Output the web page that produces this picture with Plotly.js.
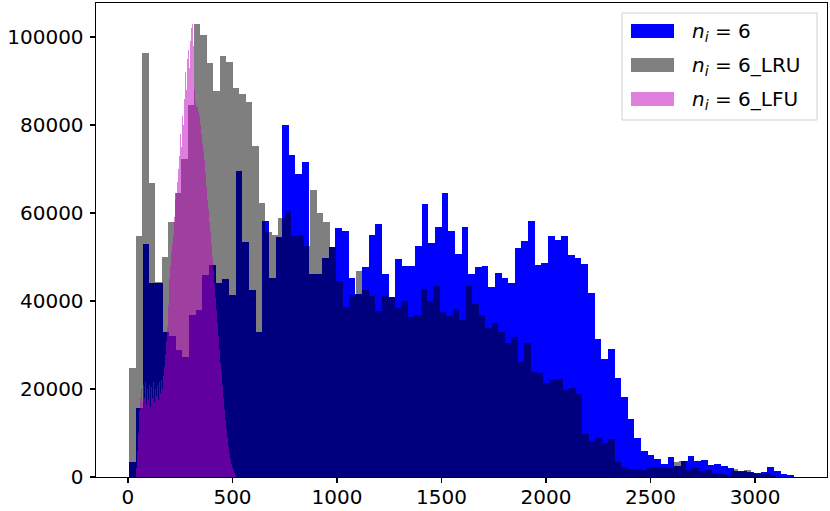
<!DOCTYPE html>
<html>
<head>
<meta charset="utf-8">
<script src="https://cdn.plot.ly/plotly-3.0.1.min.js"></script>
<style>
  html, body { margin: 0; padding: 0; background: #fff; }
  #myDiv { width: 830px; height: 511px; }
</style>
</head>
<body>
<div id="myDiv"></div>
<script>
// bin heights (counts)
var countsBase = [
    3400, 15700, 52900, 44000, 44000, 32900, 32000, 28900, 27300, 36900,
    38000, 45900, 48200, 44000, 45000, 41400, 69500, 53500, 42500, 33000,
    58200, 45300, 54600, 80000, 73200, 68900, 71500, 46100, 46200, 49700,
    52200, 56500, 55900, 45200, 41600, 47800, 54900, 57500, 46100, 41000,
    49500, 48000, 48000, 52600, 62000, 53100, 56900, 64600, 55900, 50600,
    56700, 46100, 47700, 48000, 43100, 46400, 45300, 44000, 52000, 53700,
    58200, 48200, 48600, 54700, 53900, 54800, 50500, 49700, 48300, 41700,
    31400, 26700, 29000, 22400, 18100, 13100, 8800, 5900, 5000, 4100,
    2900, 4500, 2600, 3700, 4800, 3600, 3900, 2700, 2900, 2500,
    2000, 1400, 1400, 1200, 1000, 1200, 2200, 1400, 700, 500
];

var countsLRU = [
    24800, 54800, 96300, 66700, 44300, 49900, 57900, 64500, 72200, 84500,
    102900, 100500, 94000, 87600, 95700, 94200, 88300, 87000, 85200, 75100,
    62300, 55700, 55000, 58800, 60500, 54800, 54900, 52600, 65200, 59900,
    58000, 52300, 44600, 38600, 41300, 46700, 42500, 41100, 37800, 41100,
    40800, 38500, 40000, 36400, 36800, 42700, 40000, 43400, 37600, 36600,
    38100, 35700, 43400, 39300, 36800, 33900, 34900, 32900, 30500, 31700,
    26200, 30400, 23900, 23600, 21300, 22000, 22300, 19800, 20300, 18900,
    9800, 8100, 8800, 7700, 8600, 3500, 2300, 1900, 1900, 1700,
    2100, 2300, 2300, 2000, 3500, 3700, 1600, 2100, 1400, 1600,
    1000, 700, 500, 1800, 1100, 1700, 800, 600, 1000, 500
];

var countsLFU = [
    2000, 6000, 10000, 15000, 18000, 20000, 17000, 21000, 18000, 21500,
    16500, 20000, 17500, 21000, 16000, 20500, 18000, 21500, 17000, 20000,
    18500, 21000, 17500, 21500, 19000, 22000, 20000, 23000, 25000, 28000,
    31000, 34000, 39000, 45000, 48000, 51000, 53000, 55000, 59000, 63000,
    64500, 67000, 70000, 73000, 78000, 75000, 82000, 80000, 86000, 92000,
    88000, 95000, 97000, 93000, 99000, 102000, 103000, 98000, 88000, 85000,
    84000, 84000, 83000, 82000, 80000, 78000, 76000, 74000, 72000, 69000,
    66000, 63000, 61000, 58000, 56000, 53000, 50000, 47000, 44000, 41000,
    38000, 35000, 32000, 29000, 26000, 24000, 21000, 18000, 15500, 13000,
    11000, 9000, 7000, 5500, 4000, 3000, 2300, 1600, 1000, 500
];

var seriesNames = [
    '<i>n</i><sub><i>i</i></sub> = 6',
    '<i>n</i><sub><i>i</i></sub> = 6_LRU',
    '<i>n</i><sub><i>i</i></sub> = 6_LFU'
];

// bin layout of each histogram (left edge of first bin, bin width)
var bins = [
    {start: 6.2, width: 31.8},
    {start: 6.2, width: 30.96},
    {start: 40, width: 4.75}
];
var colors = ['rgb(0,0,255)', 'rgba(0,0,0,0.5)', 'rgba(191,0,191,0.5)'];
var allCounts = [countsBase, countsLRU, countsLFU];

var data = allCounts.map(function (counts, s) {
    var edges = counts.map(function (c, i) { return bins[s].start + i * bins[s].width; });
    return {
        type: 'bar',
        x: edges,
        y: counts,
        width: bins[s].width,
        offset: 0,
        name: seriesNames[s],
        marker: {color: colors[s], line: {width: 0}},
        showlegend: false,
        hoverinfo: 'x+y'
    };
});

// hand-drawn legend, matplotlib style (wide swatches)
var M = {l: 96, r: 3, t: 3, b: 34};
var W = 830 - M.l - M.r, H = 511 - M.t - M.b;
function px(x) { return (x - M.l) / W; }
function py(y) { return (M.t + H - y) / H; }

var shapes = [{
    type: 'rect', xref: 'paper', yref: 'paper',
    x0: px(622), x1: px(817), y0: py(120), y1: py(13),
    line: {color: '#d0d0d0', width: 1}, fillcolor: 'rgba(255,255,255,0.8)'
}];
var annotations = [];
var rowY = [31, 65, 99];
var legendFill = ['#0000ff', '#808080', '#df80df'];
rowY.forEach(function (cy, k) {
    shapes.push({
        type: 'rect', xref: 'paper', yref: 'paper',
        x0: px(631), x1: px(674), y0: py(cy + 7), y1: py(cy - 7),
        line: {width: 0}, fillcolor: legendFill[k]
    });
    annotations.push({
        xref: 'paper', yref: 'paper', x: px(690), y: py(cy + 1),
        xanchor: 'left', yanchor: 'middle', showarrow: false,
        text: seriesNames[k],
        font: {family: 'DejaVu Sans', size: 20, color: '#000'}
    });
});

var axisStyle = {
    showgrid: false, zeroline: false,
    showline: true, mirror: true, linecolor: '#000', linewidth: 1.4,
    ticks: 'outside', ticklen: 5, tickwidth: 1.3, tickcolor: '#000',
    tickfont: {family: 'DejaVu Sans', size: 20, color: '#000'}
};

var layout = {
    width: 830, height: 511,
    margin: M,
    paper_bgcolor: '#fff', plot_bgcolor: '#fff',
    barmode: 'overlay', bargap: 0,
    xaxis: Object.assign({range: [-153, 3344], tick0: 0, dtick: 500, ticklabelstandoff: -3}, axisStyle),
    yaxis: Object.assign({range: [0, 107700], tick0: 0, dtick: 20000, tickformat: 'd', ticklabelstandoff: 2}, axisStyle),
    shapes: shapes,
    annotations: annotations,
    showlegend: false
};

Plotly.newPlot('myDiv', data, layout, {staticPlot: true});
</script>
</body>
</html>
